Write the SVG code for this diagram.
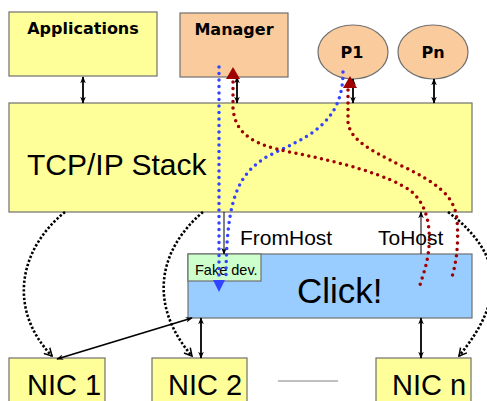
<svg xmlns="http://www.w3.org/2000/svg" width="487" height="401" viewBox="0 0 487 401">
<defs>
<style>
.box{stroke:#707070;stroke-width:1.2}
.y{fill:#FFFF99}
.o{fill:#FACB9C}
.b{fill:#99CCFF}
.g{fill:#CCFFCC}
.bold{font-family:"DejaVu Sans",Verdana,sans-serif;font-weight:bold;font-size:16px;fill:#000}
.reg{font-family:"Liberation Sans",Arial,sans-serif;fill:#000}
.arr{stroke:#000;stroke-width:1.8;fill:none;marker-start:url(#ah);marker-end:url(#ah)}
.thin{stroke:#000;stroke-width:1;fill:none;marker-end:url(#ah)}
.bdot{stroke:#000;stroke-width:2.6;stroke-dasharray:2.4 1.9;fill:none;marker-end:url(#oh)}
.red{stroke:#A00000;stroke-width:3.5;stroke-linecap:round;stroke-dasharray:0 6.5;fill:none}
.blue{stroke:#3344FF;stroke-width:3.5;stroke-linecap:round;stroke-dasharray:0 6.5;fill:none}
</style>
<marker id="ah" viewBox="0 0 10 10" refX="9" refY="5" markerWidth="7" markerHeight="7" markerUnits="userSpaceOnUse" orient="auto-start-reverse">
<path d="M0,1 L10,5 L0,9 L3,5 z" fill="#000"/>
</marker>
<marker id="oh" viewBox="0 0 12 12" refX="10" refY="6" markerWidth="10" markerHeight="10" markerUnits="userSpaceOnUse" orient="auto">
<path d="M1,1 L10,6 L1,11" fill="none" stroke="#000" stroke-width="1.8"/>
</marker>
</defs>
<rect width="487" height="401" fill="#fff"/>

<g id="applications"><rect class="box y" x="9" y="12" width="148" height="64"/><text class="bold" x="83" y="34" text-anchor="middle">Applications</text></g>
<g id="manager"><rect class="box o" x="180" y="13" width="108" height="64"/><text class="bold" x="234" y="35" text-anchor="middle">Manager</text></g>
<g id="p1"><ellipse class="box o" cx="353" cy="52" rx="35" ry="27"/><text class="bold" x="352" y="58" text-anchor="middle">P1</text></g>
<g id="pn"><ellipse class="box o" cx="433" cy="52" rx="35" ry="27"/><text class="bold" x="433" y="58" text-anchor="middle">Pn</text></g>
<g id="tcpip"><rect class="box y" x="9" y="103" width="463" height="109"/><text class="reg" x="27" y="175" font-size="30">TCP/IP Stack</text></g>
<g id="click"><rect class="box b" x="188" y="254" width="284" height="64"/><text class="reg" x="297" y="303" font-size="35">Click!</text></g>
<g id="fakedev"><rect class="box g" x="188" y="254" width="73" height="27"/><text class="reg" x="195" y="275" font-size="14.5">Fake dev.</text></g>
<g id="nic1"><rect class="box y" x="9" y="358" width="96" height="55"/><text class="reg" x="27" y="395" font-size="29">NIC 1</text></g>
<g id="nic2"><rect class="box y" x="152" y="358" width="95" height="55"/><text class="reg" x="168" y="395" font-size="29">NIC 2</text></g>
<g id="nicn"><rect class="box y" x="376" y="358" width="95" height="55"/><text class="reg" x="392" y="395" font-size="29">NIC n</text></g>

<g id="connectors">
<line class="arr" x1="83" y1="77" x2="83" y2="103"/>
<line class="arr" x1="237" y1="77" x2="237" y2="103"/>
<line class="arr" x1="353" y1="79" x2="353" y2="103"/>
<line class="arr" x1="434" y1="79" x2="434" y2="103"/>
<line class="arr" x1="201" y1="318" x2="201" y2="358"/>
<line class="arr" x1="421" y1="318" x2="421" y2="358"/>
<line class="arr" x1="192" y1="318" x2="57" y2="359"/>
<line class="thin" x1="224" y1="212" x2="224" y2="254"/>
<line class="thin" x1="421" y1="254" x2="421" y2="212"/>
<text class="reg" x="240" y="245" font-size="21">FromHost</text>
<text class="reg" x="378" y="245" font-size="21">ToHost</text>
<line x1="278" y1="381" x2="338" y2="381" stroke="#808080" stroke-width="1"/>
<path class="bdot" d="M65,212 C18,250 8,310 52,356"/>
<path class="bdot" d="M203,212 C158,250 148,305 192,356"/>
<path class="bdot" d="M448,212 C505,255 505,300 459,356"/>
<path class="blue" d="M219,67 L219,281"/>
<path class="blue" d="M343,72 C343,125 305,138 268,156 C238,174 226,198 226,280"/>
<polygon points="213,280 225,280 219,292" fill="#3344FF"/>
<path class="red" d="M233,82 L233,108 C235,135 255,145 290,152 C340,162 390,175 412,192 C430,208 431,235 428,255 C426,268 422,278 420,285"/>
<path class="red" d="M348,90 L348,122 C350,140 370,150 400,165 C435,182 455,195 457,220 C459,245 456,265 451,280"/>
<polygon points="226,79 240,79 233,67" fill="#A00000"/>
<polygon points="343,88 357,88 350,76" fill="#A00000"/>
</g>
</svg>
